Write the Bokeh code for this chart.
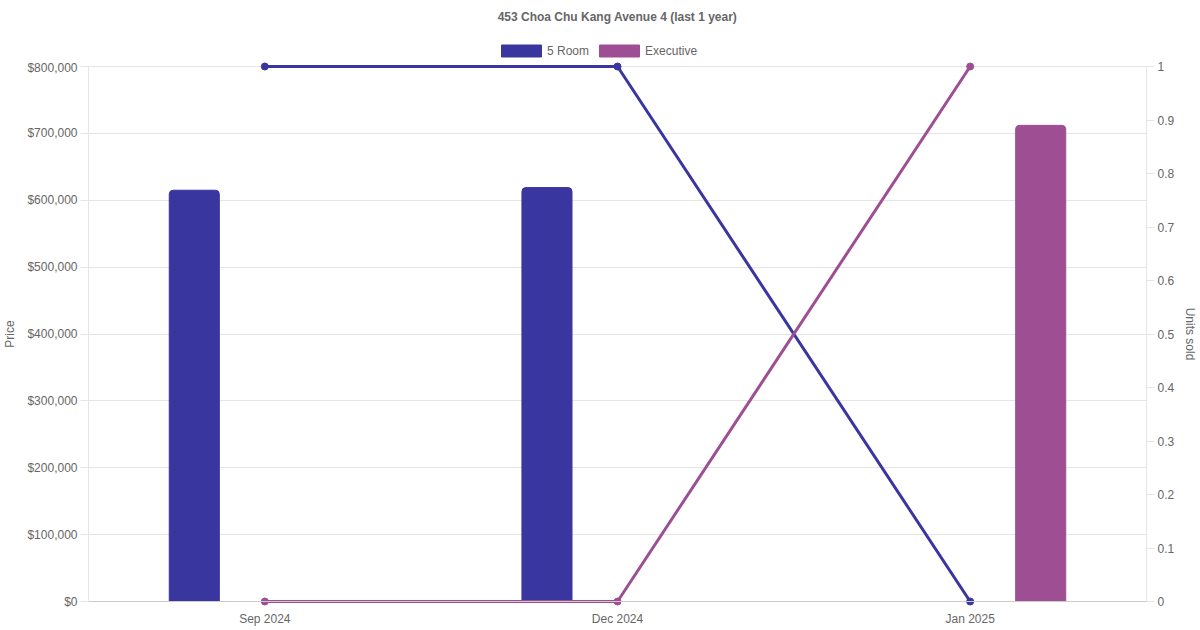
from bokeh.plotting import figure
from bokeh.layouts import column
from bokeh.models import (Range1d, LinearAxis, FixedTicker, NumeralTickFormatter, Legend,
                          LegendItem, FactorRange, ColumnDataSource, Span)
from bokeh.transform import dodge
from bokeh.embed import file_html
from bokeh.resources import INLINE

# ---- data ----
months = ["Sep 2024", "Dec 2024", "Jan 2025"]
price_5room = [615000, 619000, None]
price_exec = [None, None, 712000]
units_5room = [1, 1, 0]
units_exec = [0, 0, 1]
price_ticks = [0, 100000, 200000, 300000, 400000, 500000, 600000, 700000, 800000]
unit_ticks = [0, 0.1, 0.2, 0.3, 0.4, 0.5, 0.6, 0.7, 0.8, 0.9, 1]
series_names = ["5 Room", "Executive"]
price_max = 800000
units_max = 1

C5 = "#3a36a0"
CE = "#9e4f94"
FONT = "Liberation Sans"
TXT = "#666666"

# ---- header (title + legend) ----
h = figure(width=1200, height=60, x_range=Range1d(0, 1), y_range=Range1d(0, 1),
           x_axis_type=None, y_axis_type=None, output_backend="svg", toolbar_location=None,
           min_border_left=0, min_border_right=0, min_border_top=28, min_border_bottom=0)
h.outline_line_color = None
h.title.text = "453 Choa Chu Kang Avenue 4 (last 1 year)"
h.title.align = "center"
h.title.offset = -18
h.title.text_font = FONT
h.title.text_font_size = "12px"
h.title.text_font_style = "bold"
h.title.text_color = TXT
# off-screen proxies that only provide the legend swatches
k5 = h.vbar(x=[-10], top=[-10], width=0.1, fill_color=C5, line_color=C5)
ke = h.vbar(x=[-10], top=[-10], width=0.1, fill_color=CE, line_color=CE)
legend = Legend(items=[LegendItem(label=series_names[0], renderers=[k5]),
                       LegendItem(label=series_names[1], renderers=[ke])],
                orientation="horizontal", location=(408, 2),
                glyph_width=50, glyph_height=15, label_standoff=1, spacing=5,
                label_height=12, label_text_baseline="middle",
                label_text_font=FONT, label_text_font_size="12px", label_text_color=TXT,
                border_line_color=None, background_fill_alpha=0, padding=0, margin=0)
h.add_layout(legend, "center")

# ---- main chart ----
# frame extends 6px beyond the value range on top and bottom so end markers are not clipped
frame_px = 535
pad = 6 / frame_px
p = figure(x_range=FactorRange(*months),
           y_range=Range1d(-price_max * pad, price_max * (1 + pad)),
           width=1200, height=570, output_backend="svg", toolbar_location=None,
           min_border_left=88, min_border_right=53, min_border_top=0, min_border_bottom=23)
p.extra_y_ranges = {"units": Range1d(-units_max * pad, units_max * (1 + pad))}
p.outline_line_color = None
p.xgrid.visible = False
p.ygrid.grid_line_color = "#e5e5e5"
p.ygrid.ticker = FixedTicker(ticks=price_ticks)

def bar_src(vals):
    return ColumnDataSource(dict(x=[m for m, v in zip(months, vals) if v is not None],
                                 top=[v for v in vals if v is not None]))

p.vbar(x=dodge("x", -0.2, range=p.x_range), top="top", width=0.142, source=bar_src(price_5room),
       fill_color=C5, line_color=C5, border_radius=(4, 4, 0, 0))
p.vbar(x=dodge("x", 0.2, range=p.x_range), top="top", width=0.142, source=bar_src(price_exec),
       fill_color=CE, line_color=CE, border_radius=(4, 4, 0, 0))

p.add_layout(Span(location=0, dimension="width", line_color="#cccccc", line_width=1))

p.line(months, units_5room, y_range_name="units", color=C5, line_width=3)
p.scatter(months, units_5room, y_range_name="units", size=7, color=C5)
p.line(months, units_exec, y_range_name="units", color=CE, line_width=3)
p.scatter(months, units_exec, y_range_name="units", size=7, color=CE)

def style_axis(ax):
    ax.major_label_text_font = FONT
    ax.major_label_text_font_size = "12px"
    ax.major_label_text_color = TXT
    ax.axis_label_text_font = FONT
    ax.axis_label_text_font_size = "12px"
    ax.axis_label_text_color = TXT
    ax.axis_label_text_font_style = "normal"
    ax.minor_tick_line_color = None

yl = p.yaxis[0]
yl.ticker = FixedTicker(ticks=price_ticks)
yl.formatter = NumeralTickFormatter(format="$0,0")
yl.axis_label = "Price"
yl.bounds = (0, price_max)
style_axis(yl)
yl.axis_line_color = "#e5e5e5"
yl.major_tick_line_color = "#e5e5e5"
yl.major_tick_in = 0
yl.major_tick_out = 8
yl.major_label_standoff = 3
yl.axis_label_standoff = 7

yr = LinearAxis(y_range_name="units", ticker=FixedTicker(ticks=unit_ticks),
                formatter=NumeralTickFormatter(format="0.[0]"), axis_label="Units sold",
                bounds=(0, units_max))
style_axis(yr)
yr.axis_line_color = "#e5e5e5"
yr.major_tick_line_color = "#e5e5e5"
yr.major_tick_in = 0
yr.major_tick_out = 8
yr.major_label_standoff = 3
yr.axis_label_standoff = 6
p.add_layout(yr, "right")

xa = p.xaxis[0]
style_axis(xa)
xa.axis_line_color = None
xa.major_tick_line_color = None
xa.major_tick_in = 0
xa.major_tick_out = 0
xa.major_label_standoff = 4

layout = column(h, p, spacing=0)
open("out.html", "w").write(file_html(layout, INLINE))
